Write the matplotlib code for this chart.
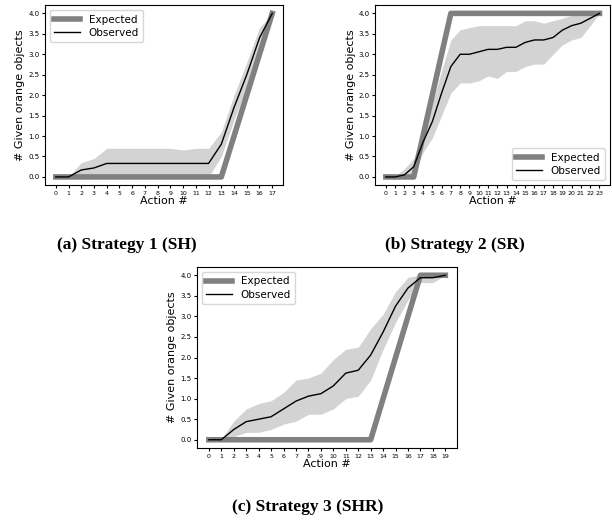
import numpy as np
import matplotlib
matplotlib.use('Agg')
import matplotlib.pyplot as plt

# Strategy 1 (SH)
x_a = list(range(18))
exp_a = [0]*14 + [1, 2, 3, 4]
obs_a = [0, 0, 0.17, 0.22, 0.33, 0.33, 0.33, 0.33, 0.33, 0.33, 0.33, 0.33, 0.33, 0.8, 1.7, 2.5, 3.4, 4.0]
up_a = [0, 0, 0.35, 0.45, 0.7, 0.7, 0.7, 0.7, 0.7, 0.7, 0.66, 0.7, 0.7, 1.1, 2.0, 2.8, 3.65, 4.0]
lo_a = [0, 0, 0, 0, 0, 0, 0, 0, 0, 0, 0, 0, 0, 0.5, 1.4, 2.2, 3.15, 4.0]

# Strategy 2 (SR)
x_b = list(range(24))
exp_b = [0, 0, 0, 0, 1, 2, 3] + [4]*17
obs_b = [0, 0, 0.05, 0.25, 0.85, 1.35, 2.05, 2.7, 3.0, 3.0, 3.06, 3.12, 3.12, 3.17, 3.17,
         3.29, 3.35, 3.35, 3.41, 3.59, 3.7, 3.76, 3.88, 4.0]
up_b = [0, 0.02, 0.2, 0.45, 1.0, 1.8, 2.6, 3.35, 3.6, 3.65, 3.7, 3.7, 3.7, 3.7, 3.7,
        3.82, 3.82, 3.76, 3.82, 3.88, 3.95, 4.0, 4.0, 4.0]
lo_b = [0, 0, 0, 0.05, 0.6, 0.95, 1.5, 2.05, 2.3, 2.3, 2.35, 2.47, 2.41, 2.58, 2.58,
        2.7, 2.76, 2.76, 3.0, 3.23, 3.35, 3.41, 3.7, 4.0]

# Strategy 3 (SHR)
x_c = list(range(20))
exp_c = [0]*14 + [1, 2, 3, 4, 4, 4]
obs_c = [0, 0, 0.25, 0.44, 0.5, 0.56, 0.75, 0.94, 1.06, 1.12, 1.31, 1.62, 1.69, 2.06,
         2.62, 3.25, 3.69, 3.94, 3.94, 4.0]
up_c = [0, 0.02, 0.45, 0.75, 0.88, 0.95, 1.15, 1.45, 1.5, 1.62, 1.95, 2.2, 2.25, 2.7,
        3.05, 3.6, 3.95, 4.0, 4.0, 4.0]
lo_c = [0, 0, 0.08, 0.18, 0.18, 0.25, 0.38, 0.45, 0.62, 0.62, 0.75, 1.0, 1.06, 1.45,
        2.2, 2.85, 3.4, 3.82, 3.82, 4.0]

captions = ['(a) Strategy 1 (SH)', '(b) Strategy 2 (SR)', '(c) Strategy 3 (SHR)']

fig = plt.figure(figsize=(6.12, 5.20), dpi=100)
ax_a = fig.add_axes([0.0735, 0.644, 0.389, 0.346])
ax_b = fig.add_axes([0.613, 0.644, 0.384, 0.346])
ax_c = fig.add_axes([0.322, 0.1385, 0.425, 0.348])


def panel(ax, x, exp, obs, lo, up, loc):
    ax.fill_between(x, lo, up, color='lightgray', lw=0)
    ax.plot(x, exp, color='gray', lw=4, label='Expected')
    ax.plot(x, obs, color='black', lw=1, label='Observed')
    ax.set_xticks(x)
    ax.tick_params(axis='x', labelsize=4.5, length=2.5, pad=1.5)
    ax.tick_params(axis='y', labelsize=5, length=2.5, pad=1.5)
    ax.set_yticks(np.arange(0, 4.01, 0.5))
    ax.set_xlabel('Action #', fontsize=8, labelpad=0)
    ax.set_ylabel('# Given orange objects', fontsize=8, labelpad=2)
    ax.legend(loc=loc, fontsize=7.5, handlelength=2.5, borderpad=0.4, labelspacing=0.3)


panel(ax_a, x_a, exp_a, obs_a, lo_a, up_a, 'upper left')
panel(ax_b, x_b, exp_b, obs_b, lo_b, up_b, 'lower right')
panel(ax_c, x_c, exp_c, obs_c, lo_c, up_c, 'upper left')

cap_font = dict(ha='center', va='center', fontsize=12.5,
                family='Liberation Serif', weight='bold')
fig.text(0.208, 0.529, captions[0], **cap_font)
fig.text(0.744, 0.529, captions[1], **cap_font)
fig.text(0.502, 0.025, captions[2], **cap_font)

fig.savefig('out.png', dpi=100)
